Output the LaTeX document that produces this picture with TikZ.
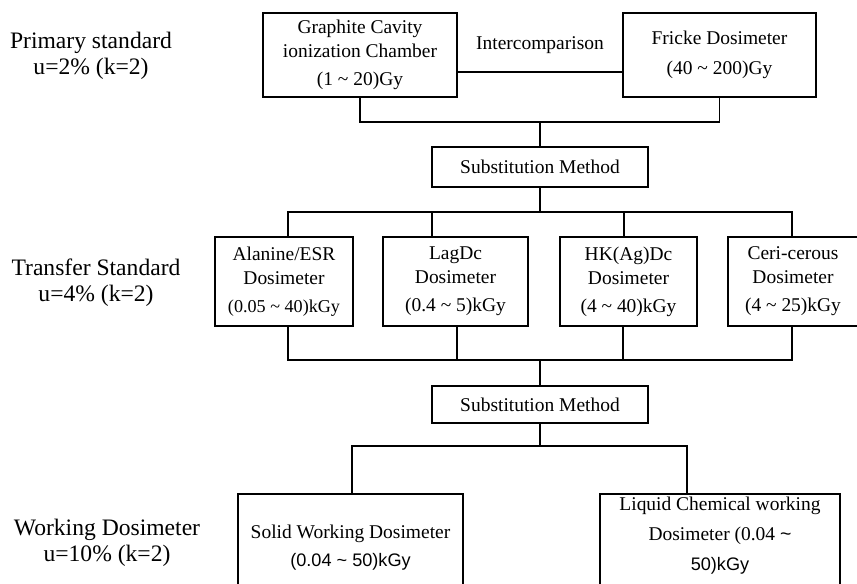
\documentclass[tikz,border=0pt]{standalone}
\usepackage{fontspec}
\setmainfont{Liberation Serif}
\newfontfamily\arialfont{Liberation Sans}
\usetikzlibrary{positioning}

\begin{document}
\begin{tikzpicture}[x=0.75pt,y=-0.75pt,line width=1.4pt,
    box/.style={draw, inner sep=0pt, align=center,
        font=\fontsize{14.6}{18}\selectfont},
    boxtext/.style={inner sep=0pt, align=center,
        font=\fontsize{14.6}{21}\selectfont},
    level/.style={align=center, inner sep=0pt,
        font=\fontsize{17.7}{19.5}\selectfont}]
\useasboundingbox (0,0) rectangle (857,584);

% level names on the left
\node[level] (primary) at (91,56) {Primary standard\\u=2\% (k=2)};
\node[level] (transfer) at (96,283) {Transfer Standard\\u=4\% (k=2)};
\node[level] (working) at (107,543) {Working Dosimeter\\u=10\% (k=2)};

% primary standards
\node[box, minimum width=145.5pt, minimum height=63pt] (graphite) at (360,55)
    {Graphite Cavity\\ionization Chamber\\[3pt](1 \textasciitilde{} 20)Gy};
\node[box, minimum width=144.75pt, minimum height=63pt] (fricke) at (719.5,55)
    {Fricke Dosimeter\\[4.5pt](40 \textasciitilde{} 200)Gy};
\draw (graphite.east |- 0,72) -- node[midway, above=10pt,
    font=\fontsize{14.6}{18}\selectfont] (intercomp) {Intercomparison}
    (fricke.west |- 0,72);

\node[box, minimum width=162pt, minimum height=30pt] (sub1) at (540,167)
    {Substitution Method};
\coordinate (join1) at (540,122);
\draw (graphite.south) |- (join1) -| (fricke.south);
\draw (join1) -- (sub1.north);

% transfer standards
\node[box, minimum width=103.5pt, minimum height=66.75pt] (alanine) at (284,281.5)
    {Alanine/ESR\\Dosimeter\\[3pt]{\fontsize{13.6}{18}\selectfont(0.05 \textasciitilde{} 40)kGy}};
\node[box, minimum width=108.75pt, minimum height=66.75pt] (lag) at (455.5,281.5)
    {LagDc\\Dosimeter\\[3pt](0.4 \textasciitilde{} 5)kGy};
\node[box, minimum width=102.75pt, minimum height=66.75pt] (hk) at (628.5,281.5)
    {HK(Ag)Dc\\Dosimeter\\[3pt](4 \textasciitilde{} 40)kGy};
\node[box, minimum width=97.5pt, minimum height=66.75pt] (ceri) at (793,281.5)
    {Ceri-cerous\\Dosimeter\\[3pt](4 \textasciitilde{} 25)kGy};

\coordinate (join2) at (540,212);
\draw (sub1.south) -- (join2);
\draw ([xshift=3pt]alanine.north) |- (join2) -| ([xshift=-0.75pt]ceri.north);
\draw ([xshift=-17.6pt]lag.north) -- ++(0,-25);
\draw ([xshift=-3.4pt]hk.north) -- ++(0,-25);

\node[box, minimum width=162pt, minimum height=27.75pt] (sub2) at (540,404.5)
    {Substitution Method};
\coordinate (join3) at (540,360);
\draw ([xshift=3pt]alanine.south) |- (join3) -| ([xshift=-0.75pt]ceri.south);
\draw ([xshift=1.1pt]lag.south) -- ++(0,34);
\draw ([xshift=-4.1pt]hk.south) -- ++(0,34);
\draw (join3) -- (sub2.north);

% working dosimeters
\node[box, anchor=north, minimum width=168.75pt, minimum height=90pt] (solid) at (350.5,493) {};
\node[box, anchor=north, minimum width=180pt, minimum height=90pt] (liquid) at (720,493) {};
\node[boxtext, below=23pt of solid.north] (solidtext)
    {Solid Working Dosimeter\\{\arialfont\fontsize{13.6}{21}\selectfont(0.04 \textasciitilde{} 50)kGy}};
\node[boxtext, below=2pt of liquid.north] (liquidtext)
    {Liquid Chemical working\\[1.5pt]Dosimeter (0.04 {\arialfont\textasciitilde}\\[1.5pt]{\arialfont\fontsize{13.6}{21}\selectfont 50)kGy}};

\coordinate (join4) at (540,446);
\draw (sub2.south) -- (join4);
\draw ([xshift=1.1pt]solid.north) |- (join4) -| ([xshift=-24.75pt]liquid.north);
\end{tikzpicture}
\end{document}
